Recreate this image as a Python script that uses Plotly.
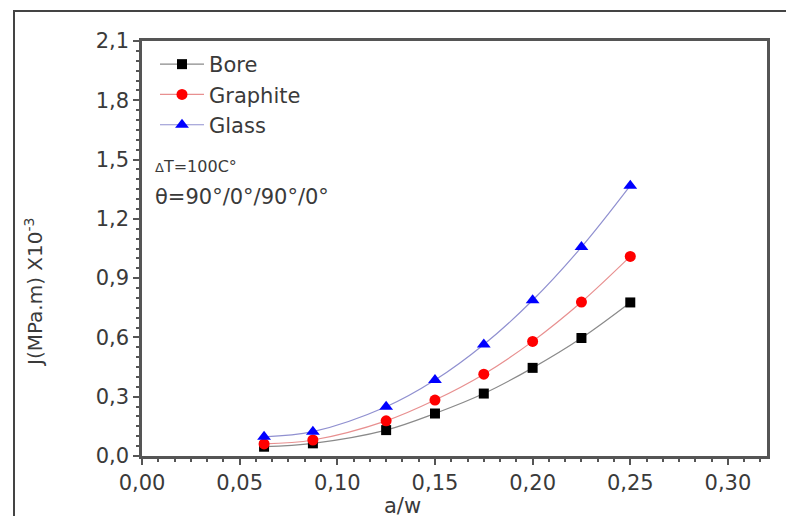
import plotly.graph_objects as go

aw = [0.0625, 0.0875, 0.125, 0.15, 0.175, 0.2, 0.225, 0.25]
bore = [0.047, 0.064, 0.131, 0.215, 0.316, 0.446, 0.597, 0.777]
graphite = [0.061, 0.081, 0.178, 0.283, 0.414, 0.58, 0.779, 1.01]
glass = [0.097, 0.123, 0.249, 0.384, 0.564, 0.788, 1.057, 1.368]

W, H = 786, 516
L, R, T, B = 142, 767, 41, 456
FONT = "DejaVu Sans, Arial"

def px(x):
    return (x - L) / (R - L)

def py(y):
    return (B - y) / (B - T)

fig = go.Figure()
series = [
    ("Bore", bore, "#000000", "#8a8a8a", "square", 10),
    ("Graphite", graphite, "#ff0000", "#e89090", "circle", 11),
    ("Glass", glass, "#0000ff", "#9090d0", "triangle-up", 12),
]
for name, ys, mc, lc, sym, sz in series:
    fig.add_trace(go.Scatter(
        x=aw, y=ys, name=name, mode="lines+markers",
        line=dict(color=lc, width=1.2, shape="spline"),
        marker=dict(color=mc, symbol=sym, size=sz),
    ))

axis_common = dict(
    showline=True, linecolor="#555555", linewidth=2.5, mirror=True,
    ticks="outside", ticklen=6, tickwidth=1.5, tickcolor="#555555",
    showgrid=False, zeroline=False,
    tickfont=dict(family=FONT, size=21, color="#3a3a3a"),
)

fig.update_xaxes(range=[0, 0.32], dtick=0.05, tickformat=".2f",
                 minor=dict(dtick=0.05 / 6, ticks="outside", ticklen=3, tickcolor="#555555"),
                 **axis_common)
fig.update_yaxes(range=[0, 2.1], dtick=0.3, tickformat=".1f",
                 minor=dict(dtick=0.05, ticks="outside", ticklen=3, tickcolor="#555555"),
                 **axis_common)

fig.add_annotation(text="J(MPa.m) X10<sup>-3</sup>", xref="paper", yref="paper",
                   x=px(34), y=py(292), xanchor="center", yanchor="middle",
                   textangle=-90, showarrow=False,
                   font=dict(family=FONT, size=20, color="#3a3a3a"))
fig.add_annotation(text="a/w", xref="paper", yref="paper",
                   x=px(402), y=py(506), xanchor="center", yanchor="middle", showarrow=False,
                   font=dict(family=FONT, size=21, color="#3a3a3a"))
fig.add_annotation(text="<span style='font-size:13px'>Δ</span>T=100C°", xref="paper", yref="paper",
                   x=px(153), y=py(166), xanchor="left", yanchor="middle", showarrow=False,
                   font=dict(family=FONT, size=16, color="#3a3a3a"))
fig.add_annotation(text="θ=90°/0°/90°/0°", xref="paper", yref="paper",
                   x=px(153), y=py(197), xanchor="left", yanchor="middle", showarrow=False,
                   font=dict(family=FONT, size=21, color="#3a3a3a"))

fig.add_shape(type="rect", xref="paper", yref="paper",
              x0=px(14), x1=px(830), y0=py(560), y1=py(11),
              line=dict(color="#444444", width=2), layer="above")

fig.update_layout(
    width=W, height=H,
    margin=dict(l=L, r=W - R, t=T, b=H - B),
    paper_bgcolor="white", plot_bgcolor="white",
    separators=",.",
    showlegend=True,
    legend=dict(x=px(155), y=py(44), xanchor="left", yanchor="top",
                bgcolor="rgba(0,0,0,0)", tracegroupgap=0, itemwidth=44,
                font=dict(family=FONT, size=21, color="#3a3a3a")),
)

fig.write_html("out.html")
